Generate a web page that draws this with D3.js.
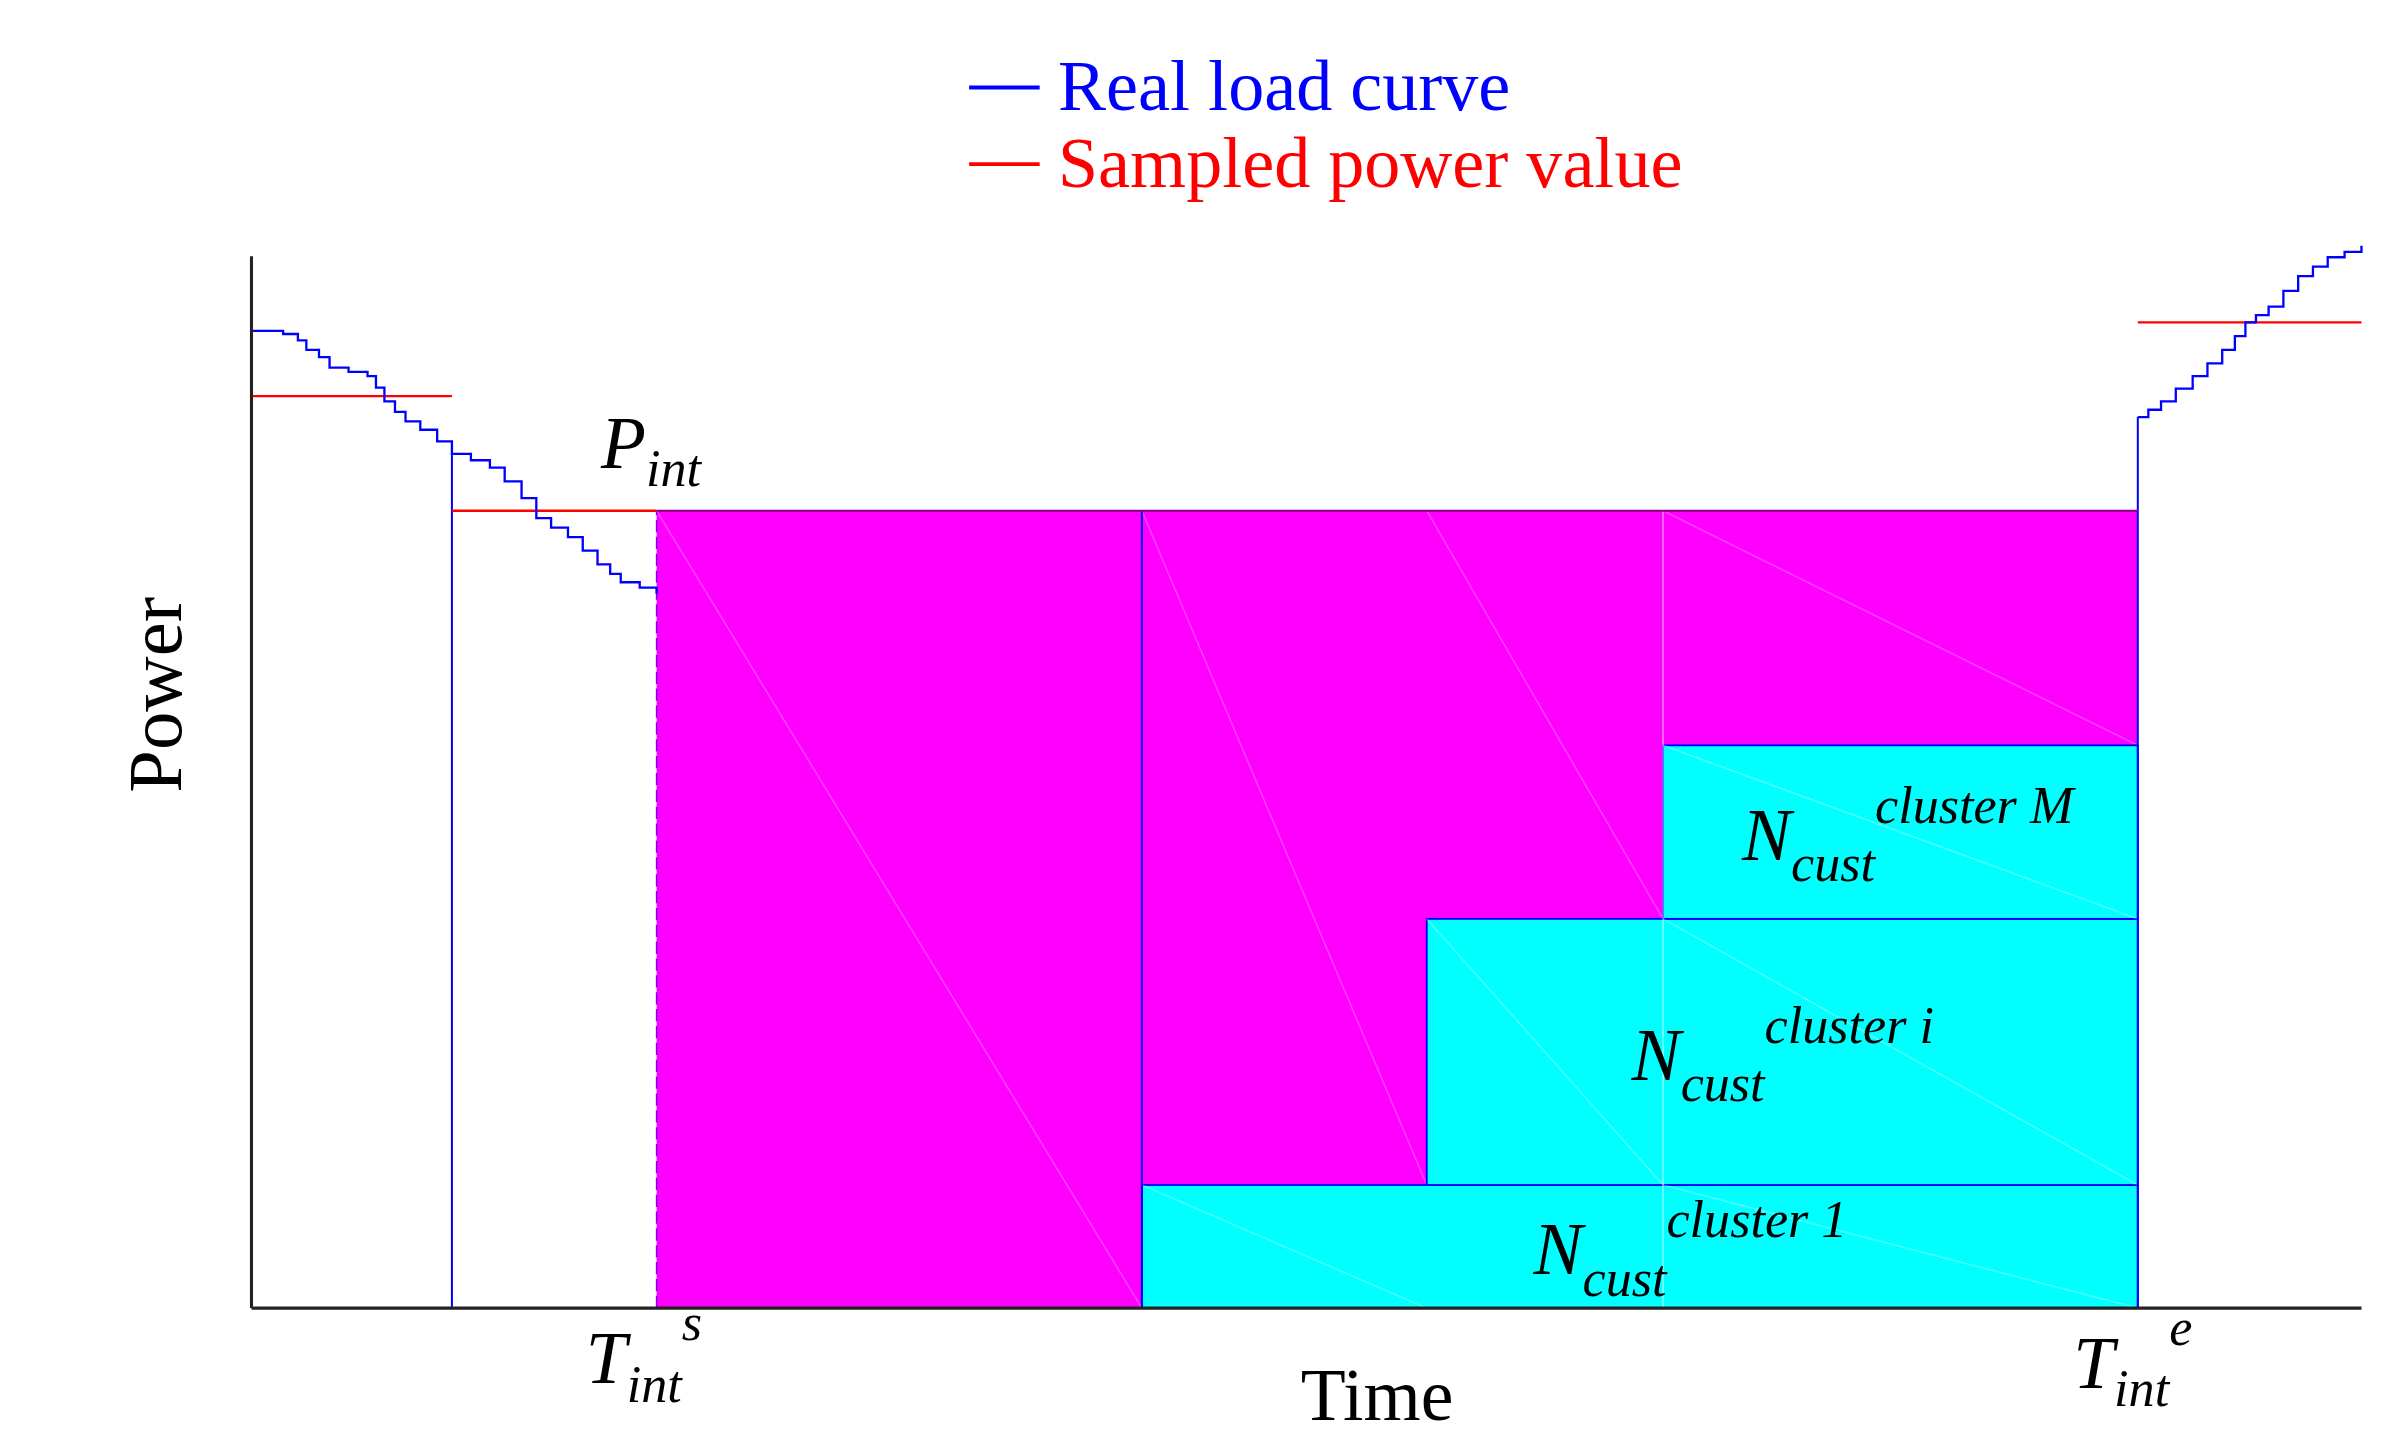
<!DOCTYPE html>
<html><head><meta charset="utf-8">
<script src="https://cdn.jsdelivr.net/npm/d3@7"></script>
<style>body{margin:0;background:#fff}svg{display:block}text{font-family:"Liberation Serif","DejaVu Serif",serif}</style>
</head><body>
<svg id="chart" width="2386" height="1437" viewBox="0 0 1556 937"></svg>
<script>
// real load curve (time %, power %)
const loadLeft = [[0,92.9],[0.8,92.9],[1.5,92.6],[2.2,92.0],[2.6,91.1],[3.2,90.4],[3.7,89.4],[4.6,89.0],[5.5,88.6],[5.9,87.5],[6.3,86.2],[6.8,85.2],[7.3,84.3],[8.0,83.5],[8.8,82.4],[9.5,81.2],[10.4,80.6],[11.3,79.9],[12.0,78.6],[12.8,77.0],[13.5,75.1],[14.2,74.2],[15.0,73.3],[15.7,72.0],[16.4,70.7],[17.0,69.8],[17.5,69.0],[18.4,68.5],[19.2,67.9]];
const loadRight = [[89.4,84.7],[89.9,85.4],[90.5,86.2],[91.2,87.4],[92.0,88.6],[92.7,89.8],[93.4,91.1],[94.0,92.4],[94.5,93.7],[95.0,94.4],[95.6,95.2],[96.3,96.7],[97.0,98.1],[97.7,99.0],[98.4,99.9],[99.2,100.4],[100,101.0]];
// sampled power steps [t0, t1, p]
const sampled = [[0,9.5,86.7],[9.5,19.2,75.8],[89.4,100,93.7]];
// interruption block
const Tstart = 19.2, Tend = 89.4, Pint = 75.8, Tsplit = 42.2;
// clusters [t0, pBottom, pTop, label]
const clusters = [[42.2,0,11.7,"1"],[55.7,11.7,37.0,"i"],[66.9,37.0,53.5,"M"]];
const blueVerticals = [[9.5,0,81.2],[42.2,0,75.8],[89.4,0,84.7]];

const svg = d3.select('#chart');
const x = d3.scaleLinear().domain([0,100]).range([164,1540]);
const y = d3.scaleLinear().domain([0,100]).range([853,167]);

// magenta interruption area
svg.append('rect').attr('x',x(Tstart)).attr('y',y(Pint))
  .attr('width',x(Tend)-x(Tstart)).attr('height',y(0)-y(Pint)).attr('fill','#ff00ff');
// faint diagonals in magenta
const diag = [[Tstart,Pint,Tsplit,0],[Tsplit,Pint,55.7,11.7],[55.7,Pint,66.9,37.0],[66.9,Pint,Tend,53.5]];
diag.forEach(d => svg.append('line').attr('x1',x(d[0])).attr('y1',y(d[1])).attr('x2',x(d[2])).attr('y2',y(d[3]))
  .attr('stroke','#ffffff').attr('stroke-opacity',0.25).attr('stroke-width',1));

// cyan cluster blocks
clusters.forEach(c => {
  svg.append('rect').attr('x',x(c[0])).attr('y',y(c[2]))
    .attr('width',x(Tend)-x(c[0])).attr('height',y(c[1])-y(c[2]))
    .attr('fill','#00ffff').attr('stroke','#0000ff').attr('stroke-width',1.2);
});
const cyanDiag = [[42.2,11.7,55.7,0],[55.7,37.0,66.9,11.7],[66.9,37.0,Tend,11.7],[66.9,53.5,Tend,37.0],[66.9,11.7,Tend,0]];
cyanDiag.forEach(d => svg.append('line').attr('x1',x(d[0])).attr('y1',y(d[1])).attr('x2',x(d[2])).attr('y2',y(d[3]))
  .attr('stroke','#ffffff').attr('stroke-opacity',0.3).attr('stroke-width',1));
svg.append('line').attr('x1',x(66.9)).attr('y1',y(Pint)).attr('x2',x(66.9)).attr('y2',y(0))
  .attr('stroke','#fff').attr('stroke-opacity',0.5);

// blue verticals
blueVerticals.forEach(v => svg.append('line').attr('x1',x(v[0])).attr('x2',x(v[0]))
  .attr('y1',y(v[1])).attr('y2',y(v[2])).attr('stroke','#0000ff').attr('stroke-width',1.3));
svg.append('line').attr('x1',x(Tstart)).attr('x2',x(Tstart)).attr('y1',y(0)).attr('y2',y(Pint))
  .attr('stroke','#8000ff').attr('stroke-width',1).attr('stroke-dasharray','8,3');

// top edge of interruption
svg.append('line').attr('x1',x(Tstart)).attr('x2',x(Tend)).attr('y1',y(Pint)).attr('y2',y(Pint))
  .attr('stroke','#800080').attr('stroke-width',1.3);

// sampled red steps
sampled.forEach(s => svg.append('line').attr('x1',x(s[0])).attr('x2',x(s[1]))
  .attr('y1',y(s[2])).attr('y2',y(s[2])).attr('stroke','#ff0000').attr('stroke-width',1.5));

// load curves
const line = d3.line().x(d=>x(d[0])).y(d=>y(d[1])).curve(d3.curveStepAfter);
[loadLeft, loadRight].forEach(l => svg.append('path').attr('d',line(l))
  .attr('fill','none').attr('stroke','#0000ff').attr('stroke-width',1.5));

// axes
svg.append('line').attr('x1',x(0)).attr('x2',x(0)).attr('y1',y(0)).attr('y2',y(100)).attr('stroke','#222').attr('stroke-width',2);
svg.append('line').attr('x1',x(0)).attr('x2',x(100)).attr('y1',y(0)).attr('y2',y(0)).attr('stroke','#222').attr('stroke-width',2);

// legend
const legend = [["Real load curve","#0000ff"],["Sampled power value","#ff0000"]];
legend.forEach((l,i) => {
  const ly = 57 + i*50;
  svg.append('line').attr('x1',632).attr('x2',678).attr('y1',ly).attr('y2',ly).attr('stroke',l[1]).attr('stroke-width',2.5);
  svg.append('text').attr('x',690).attr('y',ly+15).attr('fill',l[1]).attr('font-size',47).text(l[0]);
});

// axis titles
svg.append('text').attr('x',898).attr('y',926).attr('text-anchor','middle').attr('font-size',48).text('Time');
svg.append('text').attr('transform',`translate(118,453) rotate(-90)`).attr('text-anchor','middle').attr('font-size',50).text('Power');

// math labels
function mathLabel(px, py, main, sub, sup, subDy, supDy) {
  const t = svg.append('text').attr('x',px).attr('y',py).attr('font-style','italic');
  t.append('tspan').attr('font-size',48).text(main);
  if (sub) t.append('tspan').attr('font-size',34).attr('dy',subDy).text(sub);
  if (sup) t.append('tspan').attr('font-size',34).attr('dy',supDy).text(sup);
}
mathLabel(392,305,'P','int',null,12,0);
mathLabel(382,902,'T','int','s',12,-40);
mathLabel(1352,905,'T','int','e',12,-40);
clusters.forEach(c => {
  const cx = {"1":1000,"i":1064,"M":1136}[c[3]];
  const cy = (y(c[1])+y(c[2]))/2 + 18;
  mathLabel(cx, cy, 'N', 'cust', 'cluster ' + c[3], 14, -38);
});
</script>
</body></html>
